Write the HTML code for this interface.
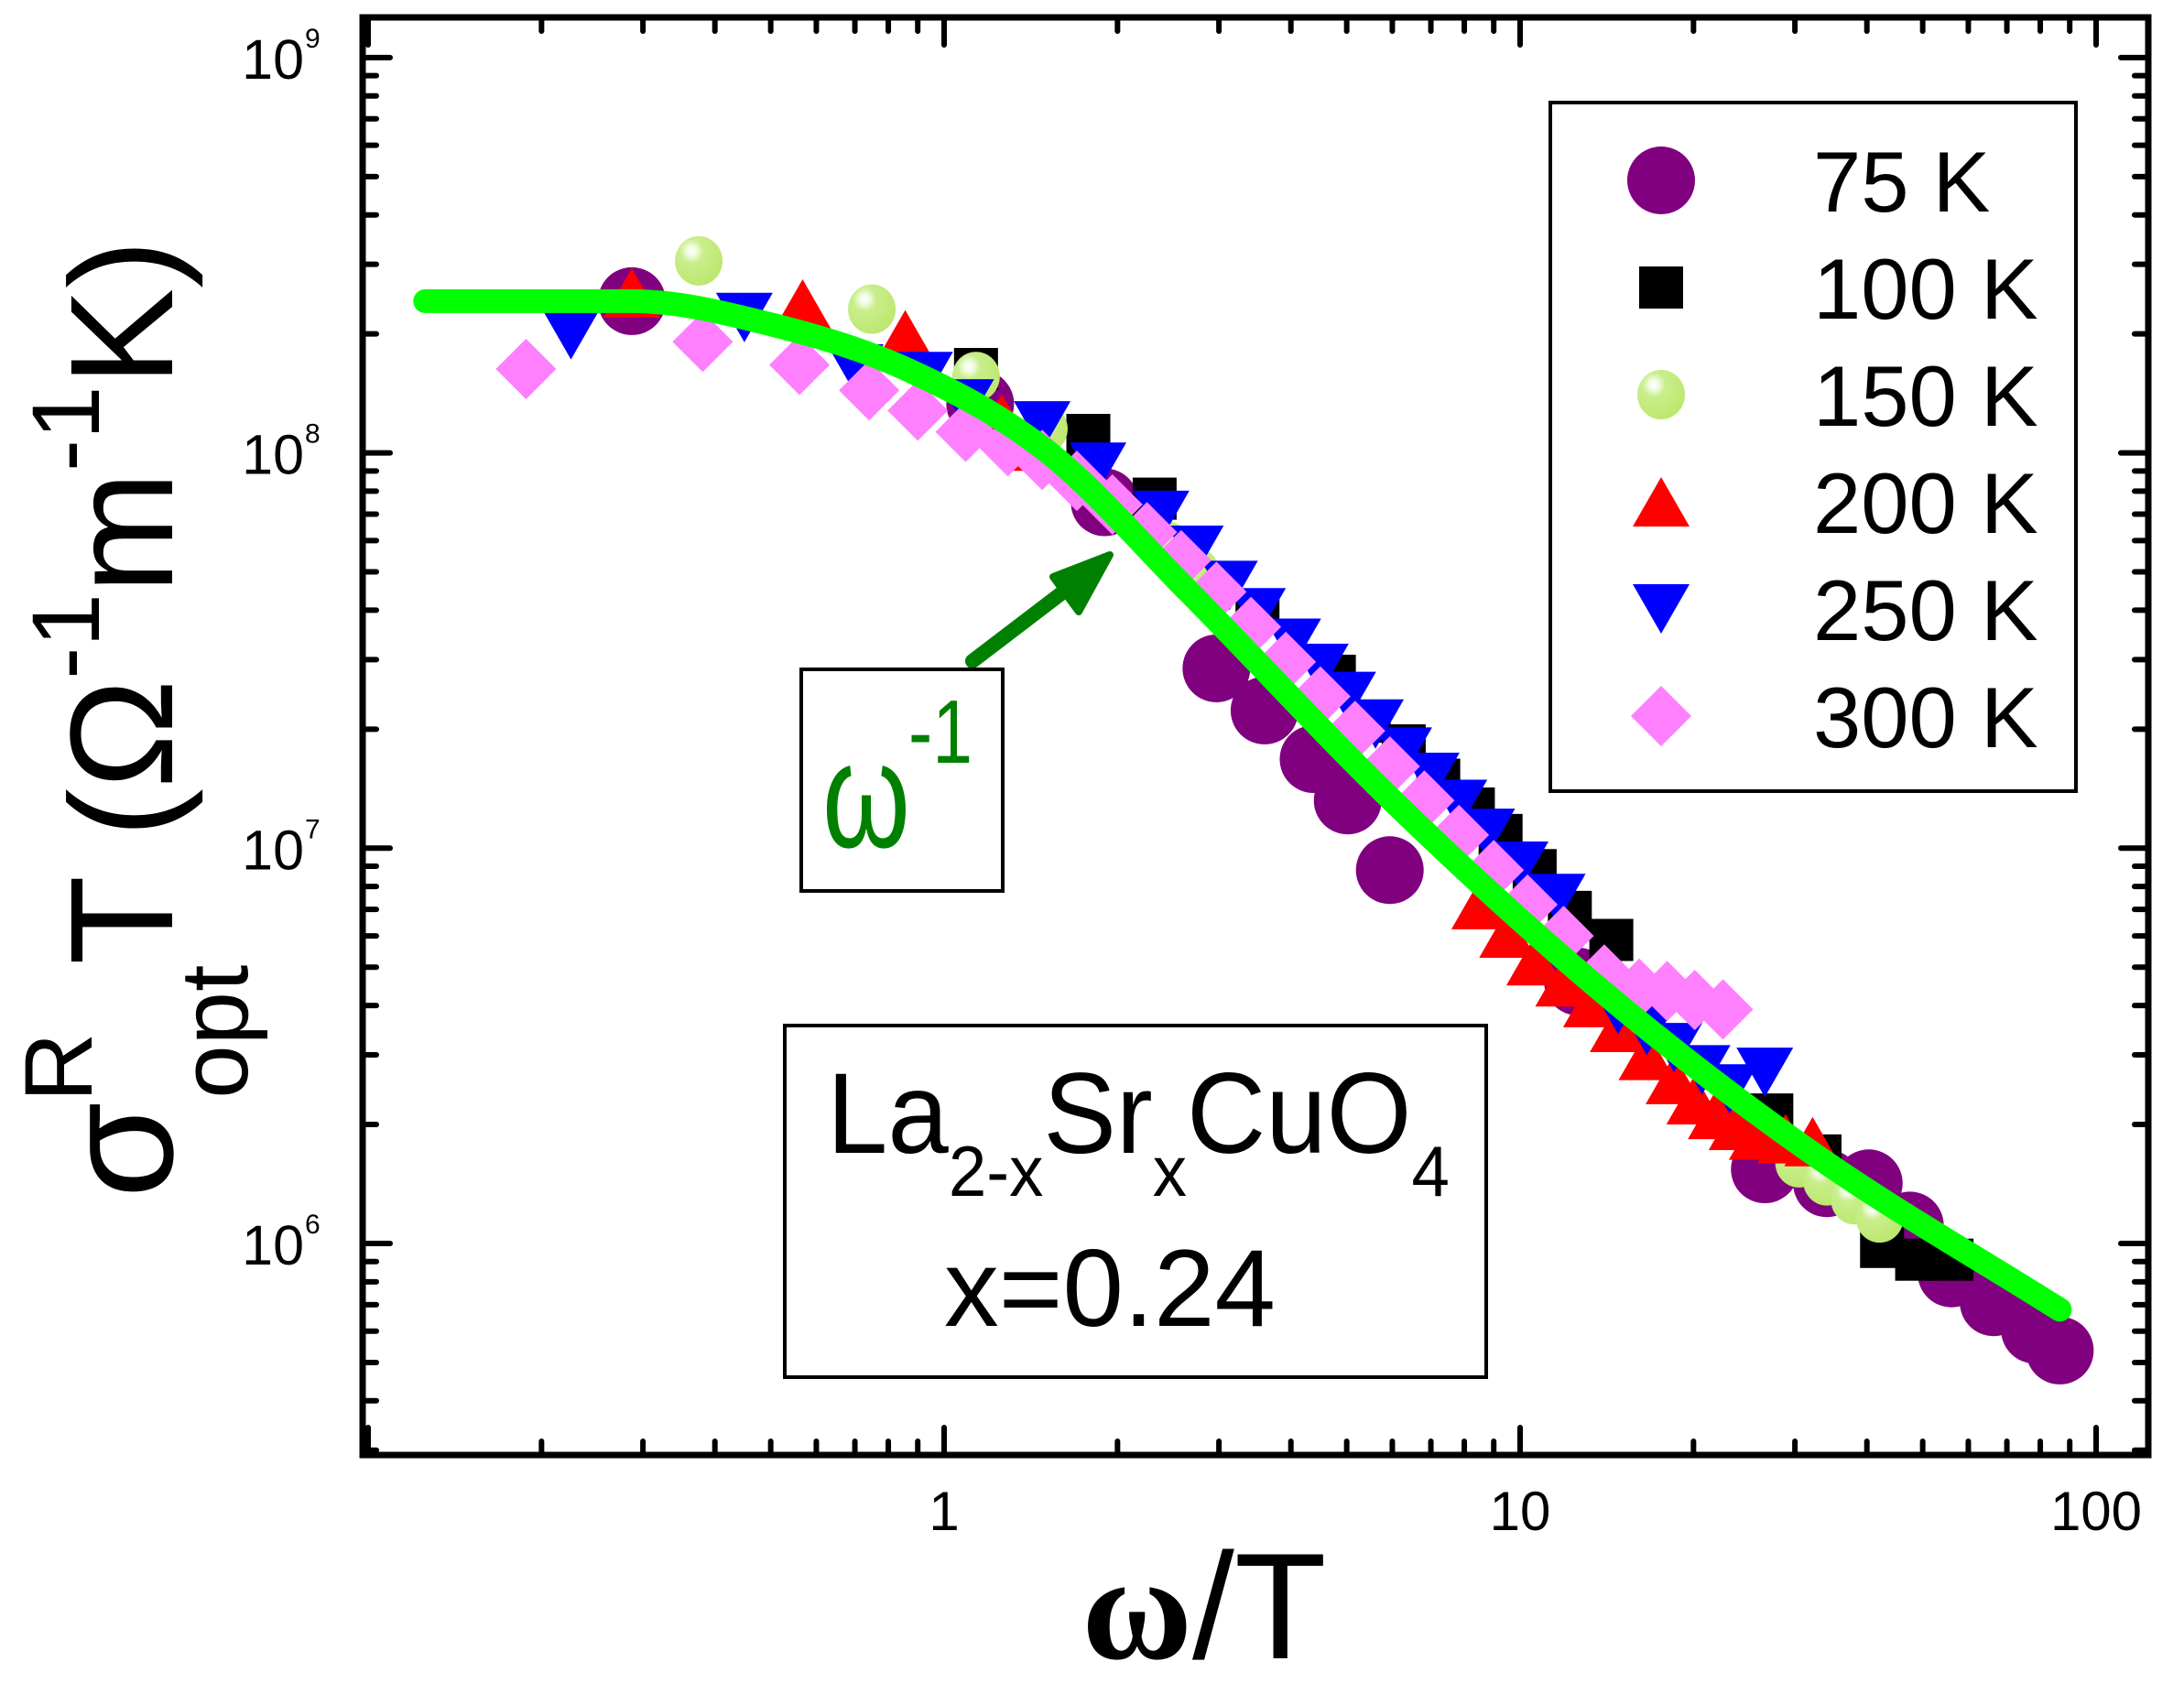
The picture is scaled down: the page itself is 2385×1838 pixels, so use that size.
<!DOCTYPE html>
<html><head><meta charset="utf-8"><style>
html,body{margin:0;padding:0;background:#fff;}
svg{display:block;}
text{font-family:"Liberation Sans",sans-serif;}
</style></head><body>
<svg id="chart" width="2385" height="1838" viewBox="0 0 2385 1838" xmlns="http://www.w3.org/2000/svg">
<defs>
<radialGradient id="sph" cx="0.35" cy="0.3" r="0.7">
<stop offset="0" stop-color="#ffffff"/><stop offset="0.15" stop-color="#f0fbe0"/><stop offset="0.35" stop-color="#c9ee8c"/><stop offset="1" stop-color="#bde86f"/>
</radialGradient>
</defs>
<g id="marks"></g>
<g id="axes"></g>
<g transform="translate(188,785) rotate(-90)">
<text x="0" y="0" text-anchor="middle" font-size="160" fill="#000"><tspan font-size="170">σ</tspan><tspan font-size="105" dy="-88">R</tspan><tspan font-size="105" dx="-72" dy="170">opt</tspan><tspan dy="-82">T (Ω</tspan><tspan font-size="105" dy="-80">-1</tspan><tspan dy="80">m</tspan><tspan font-size="105" dy="-80">-1</tspan><tspan dy="80">K)</tspan></text>
</g>
<g>
<text x="1315" y="1811" text-anchor="middle" font-size="165"><tspan font-family="Liberation Serif" font-weight="bold">ω</tspan>/T</text>
</g>
<g>
<line x1="1062" y1="722" x2="1180" y2="632" stroke="#008000" stroke-width="16" stroke-linecap="round"/>
<polygon points="1212,606 1150,630 1178,668" fill="#008000" stroke="#008000" stroke-width="8" stroke-linejoin="round"/>
<rect x="875" y="731" width="220" height="242" fill="#fff" stroke="#000" stroke-width="4"/>
<text x="898" y="925" font-size="165" fill="#008000" font-family="Liberation Serif" textLength="96" lengthAdjust="spacingAndGlyphs">ω</text>
<text x="992" y="833" font-size="98" fill="#008000" textLength="70" lengthAdjust="spacingAndGlyphs">-1</text>
</g>
<g>
<rect x="857" y="1120" width="766" height="384" fill="#fff" stroke="#000" stroke-width="4"/>
<text x="903" y="1259" font-size="125" textLength="680" lengthAdjust="spacingAndGlyphs">La<tspan font-size="78" dy="47">2-x</tspan><tspan dy="-47">Sr</tspan><tspan font-size="78" dy="47">x</tspan><tspan dy="-47">CuO</tspan><tspan font-size="78" dy="47">4</tspan></text>
<text x="1031" y="1448" font-size="120" textLength="362" lengthAdjust="spacingAndGlyphs">x=0.24</text>
</g>
<g id="legend">
<rect x="1693" y="112" width="574" height="752" fill="#fff" stroke="#000" stroke-width="4"/>
</g>
</svg>
<script>
const xs75=[0.287,1.155,1.90,2.97,3.60,4.38,5.02,5.94,12.6,26.6,34.1,40.3,47.5,56.1,66.4,78.3,86.5];
const ys75=[2.42e8,1.33e8,7.5e7,2.85e7,2.23e7,1.68e7,1.32e7,8.8e6,4.6e6,1.54e6,1.42e6,1.42e6,1.11e6,8.4e5,7.1e5,6.05e5,5.36e5];
const xs100=[1.136,1.78,2.32,3.50,4.75,5.46,6.28,7.21,8.28,9.25,10.6,12.2,14.4,27.3,33.1,42.5,48.9,56.1];
const ys100=[1.63e8,1.11e8,7.66e7,3.94e7,2.73e7,2.09e7,1.82e7,1.49e7,1.26e7,1.08e7,8.8e6,6.9e6,5.86e6,2.12e6,1.67e6,9.8e5,9.1e5,9.1e5];
const xs150=[0.375,0.749,1.136,1.49,2.44,2.73,30.5,34.1,38.1,42.1];
const ys150=[3.06e8,2.31e8,1.56e8,1.15e8,5.81e7,5.0e7,1.60e6,1.44e6,1.29e6,1.16e6];
const xs200=[0.287,0.568,0.856,1.26,1.44,8.51,9.51,10.6,11.9,13.3,14.8,16.6,18.5,20.1,21.9,23.8,25.8,28.9,32.2];
const ys200=[2.54e8,2.38e8,1.99e8,1.22e8,1.04e8,7.2e6,6.1e6,5.19e6,4.59e6,4.07e6,3.52e6,2.99e6,2.60e6,2.31e6,2.12e6,1.99e6,1.88e6,1.84e6,1.81e6];
const xs250=[0.225,0.450,0.701,0.925,1.09,1.48,1.85,2.38,2.73,3.13,3.50,4.03,4.50,5.02,5.61,6.28,7.01,7.83,8.75,10.0,11.6,14.8,16.6,18.5,20.7,23.1,26.6];
const ys250=[1.99e8,2.20e8,1.63e8,1.56e8,1.33e8,1.17e8,9.2e7,6.95e7,5.67e7,4.62e7,3.94e7,3.30e7,2.85e7,2.42e7,2.06e7,1.75e7,1.51e7,1.29e7,1.09e7,9.0e6,7.46e6,3.91e6,3.46e6,3.13e6,2.75e6,2.46e6,2.71e6];
const xs300=[0.188,0.381,0.561,0.741,0.900,1.09,1.29,1.48,1.70,1.96,2.25,2.58,2.97,3.41,3.92,4.50,5.17,5.94,6.82,7.83,9.0,10.3,11.9,14.0,16.1,18.0,20.1,22.5];
const ys300=[1.63e8,1.91e8,1.67e8,1.44e8,1.28e8,1.13e8,1.04e8,9.6e7,8.5e7,7.4e7,6.3e7,5.35e7,4.45e7,3.63e7,2.96e7,2.42e7,1.98e7,1.61e7,1.32e7,1.08e7,8.8e6,7.2e6,6.0e6,4.79e6,4.41e6,4.35e6,4.13e6,3.91e6];
const fitX=[0.1256,0.287,0.503,0.875,1.52,2.66,6.1,14.0,32.2,86.5];
const fitY=[2.42e8,2.42e8,2.11e8,1.61e8,1.0e8,4.45e7,1.29e7,4.3e6,1.69e6,6.8e5];
const xTickVals=[1,10,100];
const xTickLabels=["1","10","100"];
const yTickVals=[1e6,1e7,1e8,1e9];
const yTickExp=["6","7","8","9"];
const legendLabels=["75 K","100 K","150 K","200 K","250 K","300 K"];

const NS="http://www.w3.org/2000/svg";
const L=396,R=2346,T=19,B=1589;
function X(v){return 1031+629*Math.log10(v);}
function Y(v){return 1358-431.7*(Math.log10(v)-6);}
function mk(tag,attrs,parent){const e=document.createElementNS(NS,tag);for(const k in attrs)e.setAttribute(k,attrs[k]);parent.appendChild(e);return e;}
const marks=document.getElementById('marks');
const axes=document.getElementById('axes');
const legend=document.getElementById('legend');

function marker(type,cx,cy,parent){
  let e;
  if(type==='circle'){e=mk('ellipse',{cx:cx,cy:cy,rx:37,ry:37,fill:'#800080'},parent);}
  else if(type==='square'){e=mk('rect',{x:cx-24,y:cy-23,width:48,height:46,fill:'#000'},parent);}
  else if(type==='sphere'){e=mk('ellipse',{cx:cx,cy:cy,rx:26,ry:27,fill:'url(#sph)'},parent);}
  else if(type==='up'){e=mk('polygon',{points:(cx-31)+','+(cy+27)+' '+(cx+31)+','+(cy+27)+' '+cx+','+(cy-27),fill:'#ff0000'},parent);}
  else if(type==='down'){e=mk('polygon',{points:(cx-31)+','+(cy-27)+' '+(cx+31)+','+(cy-27)+' '+cx+','+(cy+27),fill:'#0000ff'},parent);}
  else {e=mk('polygon',{points:(cx-33)+','+cy+' '+cx+','+(cy-33)+' '+(cx+33)+','+cy+' '+cx+','+(cy+33),fill:'#ff80ff'},parent);}
  return e;
}
const series=[[xs75,ys75,'circle','series-75k'],[xs100,ys100,'square','series-100k'],[xs150,ys150,'sphere','series-150k'],[xs200,ys200,'up','series-200k'],[xs250,ys250,'down','series-250k'],[xs300,ys300,'diamond','series-300k']];
series.forEach(function(s,si){
  const g=mk('g',{},marks);
  
  
  for(let i=0;i<s[0].length;i++){
    const m=marker(s[2],X(s[0][i]),Y(s[1][i]),g);
    
    
  }
  const cy=197+117*si;
  const lm=marker(s[2],1814,cy,legend);
  
  
  const lt=mk('text',{x:1980,y:cy+34,'font-size':94},legend);
  lt.textContent=legendLabels[si];
  
  
});
// smooth monotone-ish cubic through fit points (tangents = avg of secants, x-parametrized)
const P=fitX.map(function(v,i){return [X(v),Y(fitY[i])];});
const n=P.length;
const sec=[];for(let i=0;i<n-1;i++){sec.push((P[i+1][1]-P[i][1])/(P[i+1][0]-P[i][0]));}
const tan=[];for(let i=0;i<n;i++){if(i===0)tan.push(sec[0]);else if(i===n-1)tan.push(sec[n-2]);else tan.push((sec[i-1]+sec[i])/2);}
tan[0]=0;tan[1]=0;
let d='M'+P[0][0].toFixed(1)+' '+P[0][1].toFixed(1);
for(let i=0;i<n-1;i++){
  const dx=(P[i+1][0]-P[i][0])/3;
  d+='C'+(P[i][0]+dx).toFixed(1)+' '+(P[i][1]+tan[i]*dx).toFixed(1)+' '+(P[i+1][0]-dx).toFixed(1)+' '+(P[i+1][1]-tan[i+1]*dx).toFixed(1)+' '+P[i+1][0].toFixed(1)+' '+P[i+1][1].toFixed(1);
}
const fit=mk('path',{d:d,fill:'none',stroke:'#00ff00','stroke-width':26,'stroke-linecap':'round','stroke-linejoin':'round'},marks);



const ts={stroke:'#000','stroke-width':6,'stroke-linecap':'round'};
function tick(x1,y1,x2,y2){const t=mk('line',Object.assign({x1:x1,y1:y1,x2:x2,y2:y2},ts),axes);}
for(let dec=-1;dec<=2;dec++){for(let k=1;k<10;k++){const v=k*Math.pow(10,dec);const x=X(v);if(x<L+3||x>R-3)continue;const len=k===1?30:15;tick(x,B,x,B-len);tick(x,T,x,T+len);}}
for(let dec=5;dec<=9;dec++){for(let k=1;k<10;k++){const v=k*Math.pow(10,dec);const y=Y(v);if(y>B-3||y<T+3)continue;const len=k===1?30:15;tick(L,y,L+len,y);tick(R,y,R-len,y);}}
const fr=mk('rect',{x:L,y:T,width:R-L,height:B-T,fill:'none',stroke:'#000','stroke-width':7},axes);


xTickVals.forEach(function(v,i){const t=mk('text',{x:X(v),y:1671,'font-size':60,'text-anchor':'middle'},axes);t.textContent=xTickLabels[i];});
yTickVals.forEach(function(v,i){const y=Y(v);const t=mk('text',{x:332,y:y+23,'font-size':61,'text-anchor':'end'},axes);t.textContent='10';const s=mk('text',{x:333,y:y-11,'font-size':30},axes);s.textContent=yTickExp[i];});
</script>
</body></html>
